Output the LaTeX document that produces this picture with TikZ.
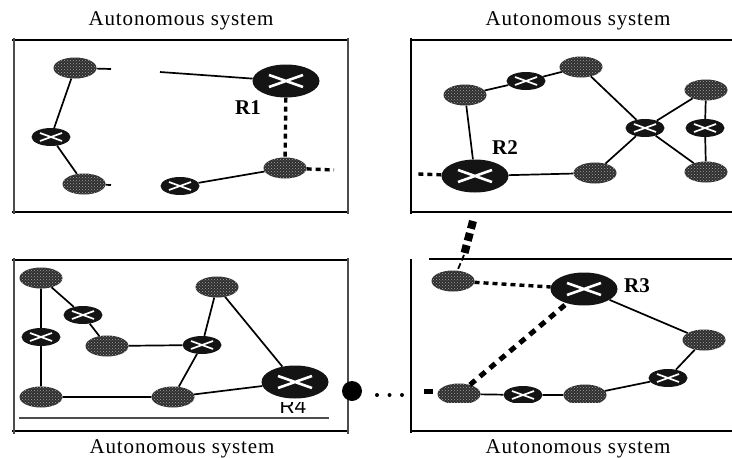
\documentclass[tikz,border=0pt]{standalone}
\usepackage{fontspec}
\setmainfont{Liberation Serif}
\newfontfamily\labelsans{Liberation Sans}
\usetikzlibrary{patterns,shapes.geometric}
\tikzset{
  hostnode/.style={ellipse,inner sep=0pt,minimum width=43pt,minimum height=21pt,
    preaction={fill=black!82},pattern=crosshatch dots,pattern color=black!35},
  smallrouter/.style={ellipse,inner sep=0pt,minimum width=39pt,minimum height=18pt,fill=black!92,
    path picture={\draw[white,line width=1.7pt]
      ([shift={(-11pt,-4pt)}]path picture bounding box.center)--([shift={(11pt,4pt)}]path picture bounding box.center)
      ([shift={(-11pt,4pt)}]path picture bounding box.center)--([shift={(11pt,-4pt)}]path picture bounding box.center);}},
  bigrouter/.style={ellipse,inner sep=0pt,minimum width=67pt,minimum height=33pt,fill=black!92,
    path picture={\draw[white,line width=2.6pt]
      ([shift={(-17pt,-6pt)}]path picture bounding box.center)--([shift={(17pt,6pt)}]path picture bounding box.center)
      ([shift={(-17pt,6pt)}]path picture bounding box.center)--([shift={(17pt,-6pt)}]path picture bounding box.center);}},
  link/.style={line width=1.7pt},
  dashlink/.style={line width=3.4pt,dash pattern=on 5pt off 4pt},
  widedash/.style={line width=5pt,dash pattern=on 7pt off 6pt},
  squarelink/.style={line width=8pt,dash pattern=on 8pt off 4.5pt},
  dotlink/.style={line width=4pt,line cap=round,dash pattern=on 0pt off 12.5pt},
  title/.style={font=\fontsize{21}{24}\selectfont\addfontfeature{LetterSpace=4},inner sep=0pt},
  routername/.style={font=\fontsize{21}{24}\selectfont\bfseries,inner sep=0pt},
}
\begin{document}
\begin{tikzpicture}[x=1pt,y=-1pt]
\useasboundingbox (0,0) rectangle (732,458);
%% panels
\draw[line width=1.5pt] (12,40)--(349,40) (12,212)--(349,212);
\draw[line width=1.5pt,black!70] (14,38)--(14,214) (348,38)--(348,214);
\draw[line width=1.5pt] (410,40)--(732,40) (410,212)--(732,212) (411,38)--(411,214);
\draw[line width=1.5pt] (12,260)--(349,260) (12,431)--(349,431);
\draw[line width=1.5pt,black!70] (14,258)--(14,434) (348,258)--(348,434);
\draw[line width=1.2pt,black!70] (19,418)--(329,418);
\draw[line width=1.2pt] (429,259)--(732,259) (411,431)--(732,431) (411,259)--(411,433);
%% titles
\node[title] (title1) at (181,21) {Autonomous system};
\node[title] (title2) at (578,21) {Autonomous system};
\node[title] (title3) at (182,449) {Autonomous system};
\node[title] (title4) at (578,449) {Autonomous system};
%% labels
\node[routername] (nameR1) at (248,108) {R1};
\node[routername] (nameR2) at (505,148) {R2};
\node[routername] (nameR3) at (637,286) {R3};
\node[inner sep=0pt,font=\fontsize{21}{24}\selectfont\labelsans] (nameR4) at (293,406.5) {R4};
\fill[white] (270,396) rectangle (315,402);
%% nodes
\foreach \px/\py/\nm in {75/68/a1,84/184/a2,285/168/a3,
  465/95/b1,581/67/b2,706/90/b3,706/172/b4,595/173/b5,
  41/278/c1,107/346/c2,217/287/c3,41/397/c4,173/397/c5,
  453/281/d1,459/394/d2,585/395/d3,704/340/d4}
  \node[hostnode] (\nm) at (\px,\py) {};
\foreach \px/\py/\nm in {51/137/sa1,180/186/sa2,
  526/81/sb1,645/128/sb2,705/128/sb3,
  83/315/sc1,41/337/sc2,202/345/sc3,
  523/395/sd1,668/378/sd2}
  \node[smallrouter] (\nm) at (\px,\py) {};
\node[bigrouter] (R1) at (286,81) {};
\node[bigrouter] (R2) at (475,176) {};
\node[bigrouter] (R3) at (584,289) {};
\node[bigrouter] (R4) at (295,382) {};
%% free ends
\coordinate (stub1) at (111,69);
\coordinate (stub2) at (111,185);
\coordinate (stub3) at (160,72);
\coordinate (stub4) at (334,170);
\coordinate (stub5) at (418,174);
\coordinate (stub6) at (473,221);
\coordinate (stub7) at (464,255);
\coordinate (dot1) at (377,395);
\coordinate (dot2) at (410,395);
%% links
\draw[link] (a1)--(stub1) (a1)--(sa1) (sa1)--(a2) (a2)--(stub2) (stub3)--(R1) (sa2)--(a3);
\draw[dashlink] (R1)--(a3);
\draw[dashlink] (a3)--(stub4);
\draw[link] (b1)--(sb1) (sb1)--(b2) (b2)--(sb2) (sb2)--(b3) (sb2)--(b4) (sb2)--(b5)
  (b3)--(sb3) (sb3)--(b4) (b1)--(R2) (R2)--(b5);
\draw[dashlink] (R2)--(stub5);
\draw[squarelink] (stub6)--(stub7);
\draw[line width=1.8pt,dash pattern=on 6pt off 3pt] (stub7)--(d1);
\draw[link] (c1)--(sc2) (sc2)--(c4) (c1)--(sc1) (sc1)--(c2) (c2)--(sc3) (sc3)--(c3)
  (sc3)--(c5) (c4)--(c5) (c5)--(R4) (c3)--(R4);
\draw[dashlink] (d1)--(R3);
\draw[widedash] (d2)--(R3);
\draw[link] (d2)--(sd1) (sd1)--(d3) (d3)--(sd2) (sd2)--(d4) (d4)--(R3);
\node[circle,fill=black,inner sep=0pt,minimum size=20pt] (gateway) at (352,391) {};
\draw[dotlink] (dot1)--(dot2);
\node[fill=black,inner sep=0pt,minimum width=9pt,minimum height=5pt] (stubmark) at (428,391) {};
\fill[white] (430,403) rectangle (610,408);
\end{tikzpicture}
\end{document}
